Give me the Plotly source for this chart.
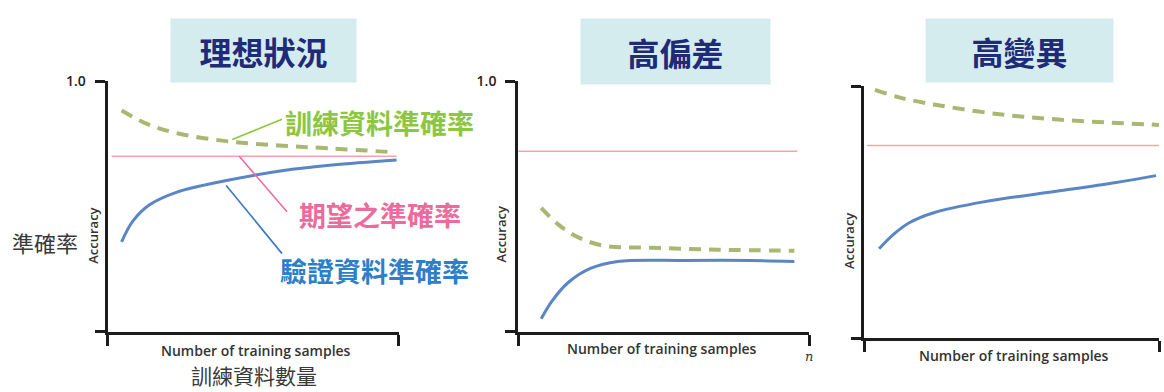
import plotly.graph_objects as go

W, H = 1164, 392

# ---------------- data (relative sample size 0..1, accuracy 0..1) ----------------
ideal_x_train = [0.048, 0.144, 0.247, 0.418, 0.589, 0.760, 0.983]
ideal_train = [0.883, 0.825, 0.790, 0.759, 0.743, 0.732, 0.716]
ideal_x_val = [0.048, 0.086, 0.144, 0.236, 0.408, 0.599, 0.771, 0.993]
ideal_val = [0.358, 0.440, 0.506, 0.556, 0.603, 0.642, 0.665, 0.685]
ideal_x_goal = [0.014, 0.993]
ideal_goal = [0.700, 0.700]

bias_x_train = [0.079, 0.137, 0.205, 0.298, 0.455, 0.685, 0.949]
bias_train = [0.494, 0.428, 0.377, 0.342, 0.335, 0.327, 0.323]
bias_x_val = [0.079, 0.113, 0.171, 0.250, 0.342, 0.572, 0.798, 0.949]
bias_val = [0.051, 0.117, 0.195, 0.253, 0.280, 0.284, 0.284, 0.280]
bias_x_goal = [0.0, 0.959]
bias_goal = [0.720, 0.720]

var_x_train = [0.037, 0.122, 0.236, 0.459, 0.686, 1.0]
var_train = [0.985, 0.954, 0.927, 0.888, 0.865, 0.846]
var_x_val = [0.051, 0.101, 0.155, 0.236, 0.405, 0.628, 0.855, 0.990]
var_val = [0.355, 0.413, 0.459, 0.498, 0.541, 0.579, 0.618, 0.645]
var_x_goal = [0.01, 1.0]
var_goal = [0.764, 0.764]

panel_titles = ["理想狀況", "高偏差", "高變異"]
x_label = "Number of training samples"
y_label = "Accuracy"
label_train = "訓練資料準確率"
label_goal = "期望之準確率"
label_val = "驗證資料準確率"
left_label = "準確率"
bottom_label = "訓練資料數量"

# ---------------- styles ----------------
C_TRAIN = "#a8b872"
C_VAL = "#5a86c4"
C_GOAL = "#f3a3ae"
T_TRAIN = "#8dc63f"
T_GOAL = "#ec6b9c"
T_VAL = "#2f7fc8"
NAVY = "#1f2b78"
AX = "#1c1c1c"
CJK = "Noto Sans CJK TC"
LAT = "Open Sans"

def fx(px):
    return px / W

def fy(py):
    return 1 - py / H

fig = go.Figure()

panels = [
    (ideal_x_train, ideal_train, ideal_x_val, ideal_val, ideal_x_goal, ideal_goal),
    (bias_x_train, bias_train, bias_x_val, bias_val, bias_x_goal, bias_goal),
    (var_x_train, var_train, var_x_val, var_val, var_x_goal, var_goal),
]
for i, (xt, yt, xv, yv, xg, yg) in enumerate(panels):
    xa = "x" if i == 0 else f"x{i+1}"
    ya = "y" if i == 0 else f"y{i+1}"
    fig.add_trace(go.Scatter(x=xg, y=yg, mode="lines", xaxis=xa, yaxis=ya,
                             line=dict(color=C_GOAL, width=1.6), showlegend=False, hoverinfo="skip"))
    fig.add_trace(go.Scatter(x=xt, y=yt, mode="lines", xaxis=xa, yaxis=ya, line_shape="spline",
                             line=dict(color=C_TRAIN, width=4, dash="12px,8px"), showlegend=False, hoverinfo="skip"))
    fig.add_trace(go.Scatter(x=xv, y=yv, mode="lines", xaxis=xa, yaxis=ya, line_shape="spline",
                             line=dict(color=C_VAL, width=3), showlegend=False, hoverinfo="skip"))

# axis geometry (pixels): y-axis x, right end x, top y, bottom y
geo = [(108, 400, 73, 330), (520, 812, 73, 330), (867, 1163, 78, 337)]
xticktexts = [["", ""], ["", "<i>n</i>"], ["", ""]]
yticktexts = [["", "1.0"], ["", "1.0"], ["", ""]]

layout_axes = {}
for i, (xl, xr, yt_, yb) in enumerate(geo):
    xk = "xaxis" if i == 0 else f"xaxis{i+1}"
    yk = "yaxis" if i == 0 else f"yaxis{i+1}"
    anchor_x = "y" if i == 0 else f"y{i+1}"
    anchor_y = "x" if i == 0 else f"x{i+1}"
    layout_axes[xk] = dict(domain=[fx(xl), fx(xr)], range=[0, 1], anchor=anchor_x,
                           showline=True, linecolor=AX, linewidth=3, showgrid=False, zeroline=False,
                           ticks="outside", ticklen=11, tickwidth=3, tickcolor=AX,
                           tickvals=[0, 1], ticktext=xticktexts[i],
                           tickfont=dict(family="DejaVu Serif", size=13, color="#333"),
                           fixedrange=True)
    layout_axes[yk] = dict(domain=[fy(yb), fy(yt_)], range=[0, 1], anchor=anchor_y,
                           showline=True, linecolor=AX, linewidth=3, showgrid=False, zeroline=False,
                           ticks="outside", ticklen=10, tickwidth=3, tickcolor=AX,
                           tickvals=[0, 1], ticktext=yticktexts[i], ticklabelstandoff=6,
                           tickfont=dict(family=LAT, size=14, color="#222", weight=600),
                           fixedrange=True)

annotations = []
# title boxes
boxes = [(264.5, 41.5, 185, 63), (677.5, 42.5, 189, 65), (1023.5, 41.5, 187, 63)]
for t, (cx, cy, bw, bh) in zip(panel_titles, boxes):
    annotations.append(dict(text=t, x=fx(cx), y=fy(cy), xref="paper", yref="paper",
                            xanchor="center", yanchor="middle", showarrow=False,
                            width=bw, height=bh, bgcolor="#d4ecee", borderpad=0,
                            font=dict(family=CJK, size=32, color=NAVY, weight=700)))

# x labels
for (cx, cy) in [(257, 349), (664, 347), (1017, 355)]:
    annotations.append(dict(text=x_label, x=fx(cx), y=fy(cy), xref="paper", yref="paper",
                            xanchor="center", yanchor="middle", showarrow=False,
                            font=dict(family=LAT, size=14, color="#333", weight=600)))
# y labels
for (cx, cy) in [(93, 232), (503, 230), (852, 237)]:
    annotations.append(dict(text=y_label, x=fx(cx), y=fy(cy), xref="paper", yref="paper",
                            xanchor="center", yanchor="middle", showarrow=False, textangle=-90,
                            font=dict(family=LAT, size=13, color="#333", weight=600)))

# series labels
for txt, col, (cx, cy) in [(label_train, T_TRAIN, (381, 115)),
                           (label_goal, T_GOAL, (381, 210)),
                           (label_val, T_VAL, (376, 267))]:
    annotations.append(dict(text=txt, x=fx(cx), y=fy(cy), xref="paper", yref="paper",
                            xanchor="center", yanchor="middle", showarrow=False,
                            font=dict(family=CJK, size=27, color=col, weight=700)))

annotations.append(dict(text=left_label, x=fx(45), y=fy(238), xref="paper", yref="paper",
                        xanchor="center", yanchor="middle", showarrow=False,
                        font=dict(family=CJK, size=22, color="#3a3a3a")))
annotations.append(dict(text=bottom_label, x=fx(255), y=fy(375), xref="paper", yref="paper",
                        xanchor="center", yanchor="middle", showarrow=False,
                        font=dict(family=CJK, size=21, color="#3a3a3a")))

shapes = []
for (x0, y0, x1, y1, col) in [(233, 133, 283, 112, T_TRAIN),
                              (240, 150, 288, 207, T_GOAL),
                              (227, 180, 283, 250, "#3d78c0")]:
    shapes.append(dict(type="line", xref="paper", yref="paper",
                       x0=fx(x0), y0=fy(y0), x1=fx(x1), y1=fy(y1),
                       line=dict(color=col, width=1.6)))

fig.update_layout(width=W, height=H, autosize=False,
                  margin=dict(l=0, r=0, t=0, b=0),
                  paper_bgcolor="white", plot_bgcolor="white",
                  showlegend=False, annotations=annotations, shapes=shapes,
                  **layout_axes)

fig.write_html("out.html", config={"displayModeBar": False, "staticPlot": True},
               post_script="document.body.style.margin='0';document.body.style.padding='0';document.body.style.overflow='hidden';")
